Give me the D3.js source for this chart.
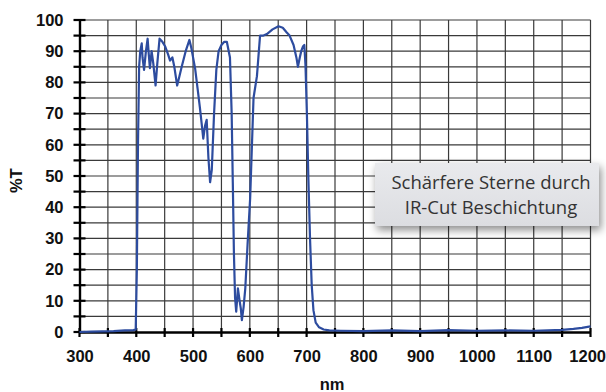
<!DOCTYPE html>
<html>
<head>
<meta charset="utf-8">
<script src="https://cdn.jsdelivr.net/npm/d3@7"></script>
<style>
body { margin: 0; background: #fff; }
svg { display: block; }
</style>
</head>
<body>
<script>
// wavelength (nm) and transmission (%T)
var wavelengths = [300, 320, 340, 360, 380, 395, 399, 401, 403, 405, 407, 409.6, 411, 413.7, 417, 420, 422, 424, 427, 430,
	434, 437, 441, 446, 451, 456, 459.5, 463.6, 467, 472, 476, 480, 487, 493.6, 497, 503.6, 508, 512, 515, 518,
	521, 524, 527, 530, 533, 537, 541, 545, 550, 555, 559.5, 565, 568, 570, 572, 574, 576, 579, 582, 584,
	586, 589, 592, 596, 600.6, 606.5, 612.5, 618, 624, 630, 640, 650.5, 658, 665, 670, 677, 682, 684.7, 688, 690.5,
	693.5, 696, 698, 700.5, 703, 706, 709, 712, 716, 722, 730, 740, 760, 800, 850, 900, 950, 1000, 1050, 1100,
	1150, 1170, 1185, 1200]
var transmission = [0, 0.1, 0.2, 0.3, 0.5, 0.6, 0.8, 20, 60, 85, 90, 92.5, 88, 84, 90, 94, 89, 84.6, 90, 86,
	79, 86, 94, 93, 91.5, 89, 87, 88, 85, 79, 82, 85, 90, 93.6, 91, 84.5, 78, 72, 67, 62,
	66, 68, 56, 48, 52, 70, 84, 90, 92, 93, 93, 88, 70, 48, 25, 11, 6.5, 14, 10, 7.7,
	3.8, 8, 14, 28, 43, 75, 82, 95, 95, 95.5, 97, 98, 97.5, 96, 95, 92, 88, 85, 88, 90,
	91.5, 92, 85.6, 70, 50, 30, 15, 7, 3, 1.5, 0.8, 0.5, 0.4, 0.3, 0.5, 0.3, 0.6, 0.4, 0.5, 0.4,
	0.7, 1.0, 1.3, 1.8]

var xTicks = [300, 400, 500, 600, 700, 800, 900, 1000, 1100, 1200]
var yTicks = [0, 10, 20, 30, 40, 50, 60, 70, 80, 90, 100]
var noteLines = ['Schärfere Sterne durch', 'IR-Cut Beschichtung']

var width = 606, height = 392
var plotLeft = 79.5, plotRight = 590.5, plotTop = 20, plotBottom = 332

var svg = d3.select('body').append('svg')
	.attr('width', width)
	.attr('height', height)

var x = d3.scaleLinear().domain([300, 1200]).range([plotLeft, plotRight])
var y = d3.scaleLinear().domain([0, 100]).range([plotBottom, plotTop])

// grid every 50 nm and 5 %
var grid = svg.append('g').attr('stroke', '#3a3a3a').attr('stroke-width', 1.2)
grid.selectAll('.vg').data(d3.range(350, 1201, 50)).enter().append('line')
	.attr('x1', function(d){ return x(d) })
	.attr('x2', function(d){ return x(d) })
	.attr('y1', y(0))
	.attr('y2', y(100))
grid.selectAll('.hg').data(d3.range(5, 101, 5)).enter().append('line')
	.attr('x1', x(300))
	.attr('x2', x(1200))
	.attr('y1', function(d){ return y(d) })
	.attr('y2', function(d){ return y(d) })

// axes
var font = '"Liberation Sans", Arial, sans-serif'
var fsize = 16.5

var xAxis = svg.append('g')
	.attr('transform', 'translate(0,' + plotBottom + ')')
	.call(d3.axisBottom(x).tickValues(xTicks).tickFormat(d3.format('d')).tickSize(0).tickPadding(18))
xAxis.select('.domain').attr('stroke', '#000').attr('stroke-width', 2.4)
xAxis.selectAll('text')
	.attr('font-family', font).attr('font-size', fsize).attr('font-weight', 'bold').attr('fill', '#111')
// last label sits against the right edge
xAxis.selectAll('.tick').filter(function(d){ return d === 1200 }).select('text')
	.attr('text-anchor', 'end').attr('x', 15)

svg.append('g').selectAll('line').data(d3.range(300, 1201, 50)).enter().append('line')
	.attr('x1', function(d){ return x(d) })
	.attr('x2', function(d){ return x(d) })
	.attr('y1', plotBottom - 4)
	.attr('y2', plotBottom + 5)
	.attr('stroke', '#000').attr('stroke-width', 2.2)

var yAxis = svg.append('g')
	.attr('transform', 'translate(' + plotLeft + ',0)')
	.call(d3.axisLeft(y).tickValues(yTicks).tickFormat(d3.format('d')).tickSize(0).tickPadding(16))
yAxis.select('.domain').attr('stroke', '#000').attr('stroke-width', 2.4)
yAxis.selectAll('text')
	.attr('font-family', font).attr('font-size', fsize).attr('font-weight', 'bold').attr('fill', '#111')

svg.append('g').selectAll('line').data(d3.range(0, 101, 5)).enter().append('line')
	.attr('x1', plotLeft - 6)
	.attr('x2', plotLeft + 6)
	.attr('y1', function(d){ return y(d) })
	.attr('y2', function(d){ return y(d) })
	.attr('stroke', '#000').attr('stroke-width', 2.2)

svg.append('text')
	.attr('transform', 'translate(22,' + y(48.5) + ') rotate(-90)')
	.attr('text-anchor', 'middle')
	.attr('font-family', font).attr('font-size', fsize).attr('font-weight', 'bold').attr('fill', '#111')
	.text('%T')

svg.append('text')
	.attr('x', 332)
	.attr('y', 390)
	.attr('text-anchor', 'middle')
	.attr('font-family', font).attr('font-size', fsize).attr('font-weight', 'bold').attr('fill', '#111')
	.text('nm')

// curve
var points = wavelengths.map(function(d, i){ return [d, transmission[i]] })
svg.append('path')
	.datum(points)
	.attr('fill', 'none')
	.attr('stroke', '#2d4c9f')
	.attr('stroke-width', 2.2)
	.attr('stroke-linejoin', 'round')
	.attr('d', d3.line()
		.x(function(d){ return x(d[0]) })
		.y(function(d){ return y(d[1]) }))

// note box
var defs = svg.append('defs')
var shadow = defs.append('filter').attr('id', 'shadow')
	.attr('x', '-20%').attr('y', '-30%').attr('width', '140%').attr('height', '170%')
shadow.append('feDropShadow')
	.attr('dx', 2).attr('dy', 4).attr('stdDeviation', 4)
	.attr('flood-color', '#000').attr('flood-opacity', 0.45)
var grad = defs.append('linearGradient').attr('id', 'boxfill')
	.attr('x1', 0).attr('y1', 0).attr('x2', 0).attr('y2', 1)
grad.append('stop').attr('offset', 0).attr('stop-color', '#e9eaed')
grad.append('stop').attr('offset', 1).attr('stop-color', '#dcdde1')

svg.append('rect')
	.attr('x', 375).attr('y', 163)
	.attr('width', 224).attr('height', 63)
	.attr('fill', 'url(#boxfill)')
	.attr('filter', 'url(#shadow)')

svg.append('g').selectAll('text').data(noteLines).enter().append('text')
	.attr('x', 491)
	.attr('y', function(d, i){ return 189 + i * 25 })
	.attr('text-anchor', 'middle')
	.attr('font-family', '"Open Sans", sans-serif')
	.attr('font-size', 18.5)
	.attr('fill', '#333')
	.text(function(d){ return d })
</script>
</body>
</html>
